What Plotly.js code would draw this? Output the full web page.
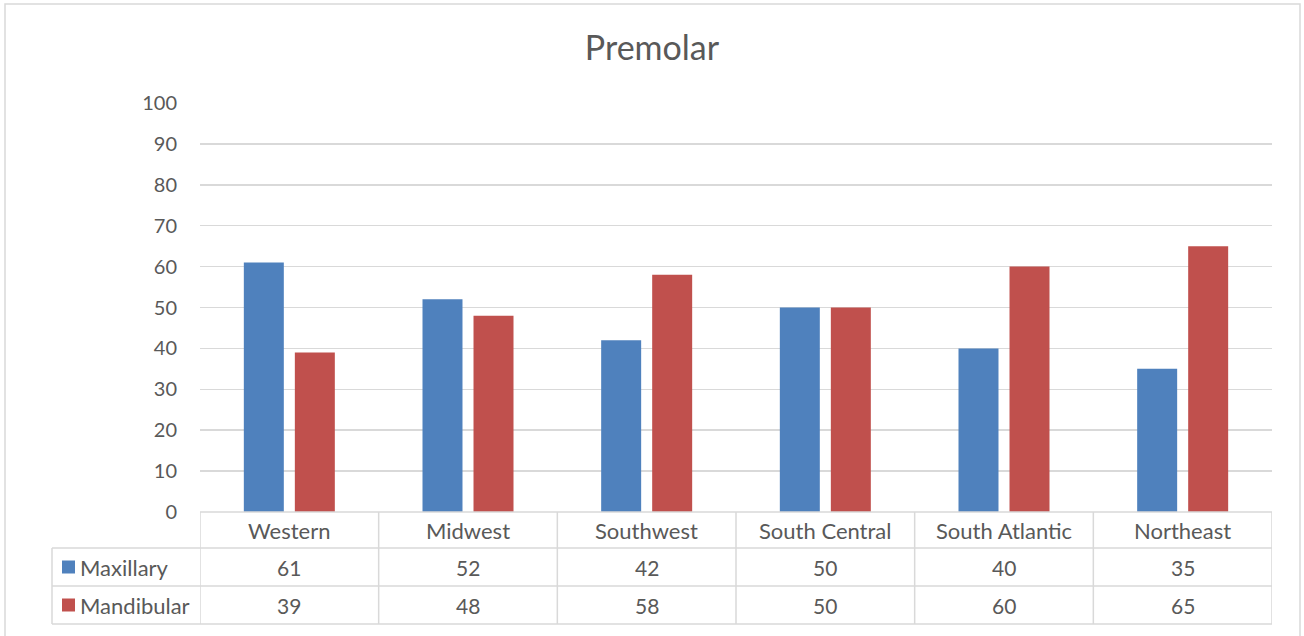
<!DOCTYPE html>
<html>
<head>
<meta charset="utf-8">
<script src="https://cdn.plot.ly/plotly-3.0.1.min.js"></script>
<style>html,body{margin:0;padding:0;background:#fff;}#chart{width:1304px;height:636px;}</style>
</head>
<body>
<div id="chart"></div>
<script>
const categories = ["Western", "Midwest", "Southwest", "South Central", "South Atlantic", "Northeast"];
const seriesNames = ["Maxillary", "Mandibular"];
const maxillary = [61, 52, 42, 50, 40, 35];
const mandibular = [39, 48, 58, 50, 60, 65];
const yTicks = [0, 10, 20, 30, 40, 50, 60, 70, 80, 90, 100];

const W = 1304, H = 636;
const L = 200, R = 1272, T = 103, B = 512;
const FONT = "Lato, 'Open Sans', sans-serif";
const TXT = "#595959";
const GRID = "#d9d9d9";
const colors = ["#4f81bd", "#c0504d"];
const py = y => (B - y) / (B - T);
const px = x => (x - L) / (R - L);

const traces = [maxillary, mandibular].map((vals, i) => ({
  type: "bar",
  name: seriesNames[i],
  x: categories.map((c, k) => k),
  y: vals,
  marker: {color: colors[i]},
  hoverinfo: "skip",
  showlegend: false
}));

const shapes = [];
const annotations = [];
const n = categories.length;
const line = (x0, y0, x1, y1, xref) => shapes.push({type: "line", xref: xref, yref: "paper", x0: x0, x1: x1, y0: y0, y1: y1, line: {color: GRID, width: 1.5}});
// table horizontal lines
line(0, py(512), 1, py(512), "paper");
[548, 586, 624].forEach(y => line(px(52), py(y), 1, py(y), "paper"));
// vertical lines at category boundaries
for (let k = 0; k <= n; k++) line(k - 0.5, py(512), k - 0.5, py(624), "x");
line(px(52), py(548), px(52), py(624), "paper");
// outer frame
shapes.push({type: "rect", xref: "paper", yref: "paper", x0: px(5), x1: px(1300), y0: py(660), y1: py(4), line: {color: GRID, width: 1.5}});

// header labels and values
categories.forEach((c, k) => {
  annotations.push({x: k, xref: "x", y: py(530), yref: "paper", text: c, showarrow: false, font: {family: FONT, size: 22, color: TXT}, xanchor: "center", yanchor: "middle"});
  [maxillary, mandibular].forEach((vals, i) => {
    annotations.push({x: k, xref: "x", y: py(i === 0 ? 567 : 605), yref: "paper", text: String(vals[k]), showarrow: false, font: {family: FONT, size: 21, color: TXT}, xanchor: "center", yanchor: "middle"});
  });
});
// legend keys in table
seriesNames.forEach((s, i) => {
  const yc = i === 0 ? 567 : 605;
  shapes.push({type: "rect", xref: "paper", yref: "paper", x0: px(62), x1: px(75), y0: py(yc + 6.5), y1: py(yc - 6.5), fillcolor: colors[i], line: {width: 0}});
  annotations.push({x: px(78), xref: "paper", y: py(yc), yref: "paper", text: s, showarrow: false, font: {family: FONT, size: 22, color: TXT}, xanchor: "left", yanchor: "middle"});
});

const layout = {
  width: W, height: H,
  margin: {l: L, r: W - R, t: T, b: H - B, pad: 0},
  paper_bgcolor: "#fff", plot_bgcolor: "#fff",
  title: {text: "Premolar", font: {family: FONT, size: 34, color: TXT}, x: 0.5, xanchor: "center", y: 1 - 48 / H, yanchor: "middle", yref: "container"},
  barmode: "group",
  bargap: 0.429,
  bargroupgap: 0.216,
  xaxis: {range: [-0.5, n - 0.5], showticklabels: false, showgrid: false, zeroline: false, showline: false, ticks: "", fixedrange: true},
  yaxis: {range: [0, 100], tickvals: yTicks, ticktext: yTicks.map(String), showgrid: true, gridcolor: GRID, gridwidth: 1.5, zeroline: false, showline: false, ticks: "", ticklabelstandoff: 22, tickfont: {family: FONT, size: 20, color: TXT}, fixedrange: true},
  shapes: shapes,
  annotations: annotations,
  showlegend: false
};

Plotly.newPlot("chart", traces, layout, {displayModeBar: false, staticPlot: true});
</script>
</body>
</html>
